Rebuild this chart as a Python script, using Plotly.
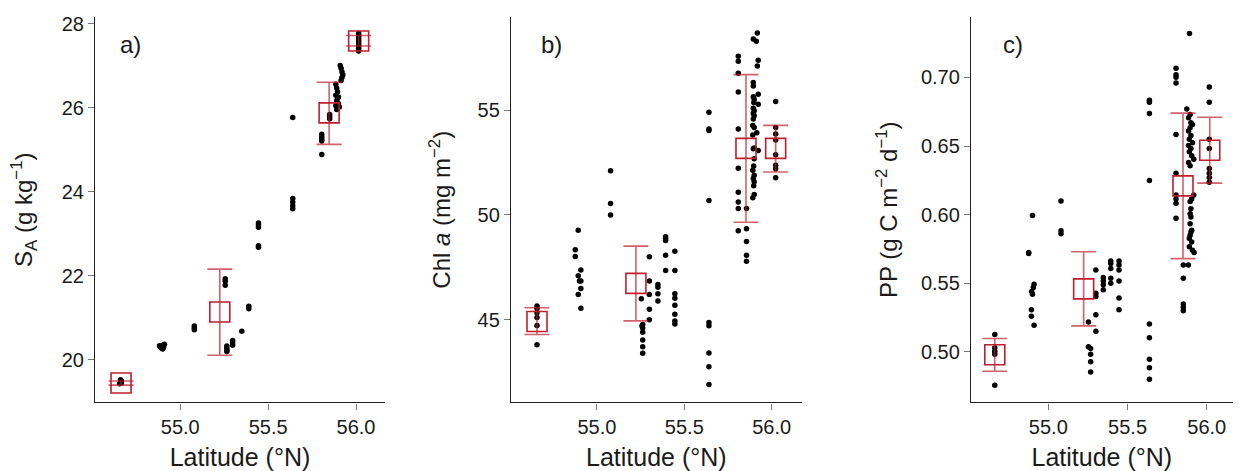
import plotly.graph_objects as go

# ---------------- Panel a: Absolute salinity ----------------
a_lat = [54.655, 54.66, 54.665, 54.66, 54.665,
         54.882, 54.888, 54.895, 54.90, 54.905, 54.91, 54.90, 54.893,
         55.08, 55.08, 55.08,
         55.256, 55.256, 55.256,
         55.265, 55.265, 55.265, 55.265,
         55.298, 55.298, 55.298,
         55.35,
         55.39, 55.39,
         55.445, 55.445, 55.445, 55.445, 55.445,
         55.64, 55.64, 55.64, 55.64, 55.64,
         55.805, 55.805, 55.805, 55.805, 55.805,
         55.85, 55.85, 55.85,
         55.885, 55.89, 55.885, 55.895, 55.89, 55.90, 55.885, 55.895, 55.89, 55.90, 55.895, 55.905,
         55.91, 55.915, 55.92, 55.925, 55.92, 55.915,
         56.015, 56.015, 56.015, 56.015, 56.015, 56.015, 56.015, 56.015, 56.015]
a_val = [19.43, 19.47, 19.50, 19.53, 19.45,
         20.34, 20.31, 20.28, 20.35, 20.30, 20.37, 20.26, 20.33,
         20.81, 20.76, 20.72,
         21.93, 21.87, 21.78,
         20.33, 20.28, 20.23, 20.20,
         20.46, 20.40, 20.35,
         20.68,
         21.28, 21.22,
         23.26, 23.21, 23.16, 22.72, 22.68,
         25.77, 23.84, 23.76, 23.67, 23.60,
         25.37, 25.31, 25.26, 25.21, 24.89,
         25.84, 25.79, 25.74,
         26.56, 26.47, 26.30, 26.22, 26.17, 26.10, 26.05, 26.00, 25.96, 26.26, 26.38, 26.02,
         27.01, 26.94, 26.86, 26.79, 26.72, 26.65,
         27.77, 27.72, 27.67, 27.62, 27.57, 27.52, 27.47, 27.41, 27.35]
a_mean_lat = [54.663, 55.225, 55.847, 56.015]
a_mean = [19.45, 21.14, 25.88, 27.59]
a_hi = [19.50, 22.16, 26.61, 27.72]
a_lo = [19.40, 20.11, 25.13, 27.47]

# ---------------- Panel b: Chl a ----------------
b_lat = [54.657] * 6 + \
        [54.876, 54.876, 54.893, 54.893, 54.893, 54.908, 54.908, 54.908, 54.908, 54.90] + \
        [55.078] * 3 + \
        [55.254, 55.262, 55.262, 55.262, 55.262, 55.262, 55.262, 55.258, 55.30, 55.30, 55.30, 55.30, 55.30] + \
        [55.349] * 4 + [55.393] * 5 + [55.446] * 8 + [55.641] * 9 + [55.809] * 10 + [55.856] * 5 + \
        [55.918, 55.895, 55.912, 55.923, 55.918, 55.895, 55.895, 55.923, 55.895, 55.90, 55.898,
         55.923, 55.895, 55.90, 55.895, 55.90, 55.895, 55.892, 55.90, 55.915, 55.892, 55.90,
         55.895, 55.923, 55.90, 55.897, 55.892, 55.90, 55.895, 55.90, 55.897, 55.90, 55.892] + \
        [56.023] * 8
b_val = [45.65, 45.52, 45.33, 45.10, 44.72, 43.80,
         48.34, 48.02, 49.27, 47.10, 46.20, 47.37, 46.84, 46.49, 45.55, 46.84,
         52.11, 50.55, 50.00,
         46.00, 44.77, 44.60, 44.40, 44.03, 43.70, 43.40, 44.70, 48.00, 46.85, 46.20, 45.50, 45.00,
         46.68, 46.55, 46.24, 45.89,
         48.96, 48.86, 48.78, 48.07, 47.35,
         48.27, 47.35, 46.24, 46.02, 45.69, 45.26, 44.94, 44.79,
         54.91, 54.10, 54.03, 50.69, 44.86, 44.71, 43.41, 42.75, 41.90,
         57.58, 57.34, 56.77, 55.87, 54.10, 52.23, 51.09, 50.62, 50.31, 49.24,
         50.31, 49.34, 48.73, 48.07, 47.79,
         58.69, 58.40, 58.29, 57.39, 57.11, 56.32, 56.16, 55.76, 55.65, 55.53, 55.37,
         55.29, 55.09, 54.98, 54.85, 54.74, 54.58, 54.27, 54.18, 53.92, 53.82, 53.20,
         53.16, 53.08, 52.68, 52.34, 52.13, 51.90, 51.74, 51.58, 51.39, 50.98, 50.82,
         55.42, 54.18, 53.87, 53.58, 52.87, 52.37, 52.21, 51.78]
b_mean_lat = [54.657, 55.223, 55.853, 56.023]
b_mean = [44.91, 46.73, 53.18, 53.18]
b_hi = [45.57, 48.51, 56.70, 54.28]
b_lo = [44.29, 44.94, 49.65, 52.05]

# ---------------- Panel c: Primary production ----------------
c_lat = [54.662] * 5 + \
        [54.876, 54.876, 54.90, 54.91, 54.905, 54.895, 54.90, 54.893, 54.893, 54.91] + \
        [55.08] * 3 + \
        [55.30, 55.30, 55.30, 55.30, 55.253, 55.30, 55.253, 55.267, 55.267, 55.267, 55.267] + \
        [55.347] * 4 + [55.394] * 5 + [55.446] * 6 + [55.638] * 9 + [55.806] * 10 + [55.852] * 5 + [55.884] + \
        [55.891, 55.874, 55.895, 55.885, 55.90, 55.91, 55.895, 55.885, 55.90, 55.89, 55.91,
         55.885, 55.90, 55.89, 55.905, 55.918, 55.885, 55.895, 55.918, 55.905, 55.895, 55.90,
         55.895, 55.90, 55.895, 55.905, 55.90, 55.895, 55.89, 55.905, 55.89, 55.91, 55.92] + \
        [56.016] * 8
c_val = [0.5127, 0.5030, 0.5006, 0.4983, 0.4758,
         0.5725, 0.5717, 0.5995, 0.5493, 0.5469, 0.5440, 0.5421, 0.5308, 0.5260, 0.5194,
         0.6100, 0.5884, 0.5862,
         0.5597, 0.5428, 0.5404, 0.5272, 0.5218, 0.5151, 0.5038, 0.5026, 0.4983, 0.4929, 0.4855,
         0.5542, 0.5518, 0.5489, 0.5453,
         0.5662, 0.5645, 0.5609, 0.5537, 0.5500,
         0.5662, 0.5633, 0.5597, 0.5518, 0.5393, 0.5308,
         0.6834, 0.6819, 0.6737, 0.6250, 0.5204, 0.5103, 0.4947, 0.4886, 0.4802,
         0.7067, 0.7019, 0.7002, 0.6959, 0.6585, 0.6303, 0.6144, 0.6115, 0.6084, 0.5975,
         0.5633, 0.5537, 0.5349, 0.5325, 0.5301, 0.5633,
         0.7320, 0.6771, 0.6730, 0.6706, 0.6670, 0.6657, 0.6633, 0.6610, 0.6578, 0.6549, 0.6525,
         0.6505, 0.6482, 0.6458, 0.6429, 0.6404, 0.6380, 0.6357, 0.6144, 0.6115, 0.6096, 0.6043,
         0.6007, 0.5983, 0.5934, 0.5886, 0.5874, 0.5850, 0.5826, 0.5802, 0.5766, 0.5742, 0.5725,
         0.6930, 0.6819, 0.6549, 0.6482, 0.6337, 0.6303, 0.6272, 0.6236]
c_mean_lat = [54.662, 55.223, 55.850, 56.019]
c_mean = [0.498, 0.546, 0.621, 0.647]
c_hi = [0.5098, 0.573, 0.674, 0.671]
c_lo = [0.486, 0.519, 0.568, 0.623]

x_ticks = [55.0, 55.5, 56.0]
a_ticks = [20, 22, 24, 26, 28]
b_ticks = [45, 50, 55]
c_ticks = [0.50, 0.55, 0.60, 0.65, 0.70]

panel_labels = ["a)", "b)", "c)"]
y_titles = ["S<sub>A</sub> (g kg<sup>\u22121</sup>)",
            "Chl <i>a</i> (mg m<sup>\u22122</sup>)",
            "PP (g C m<sup>\u22122</sup> d<sup>\u22121</sup>)"]
x_title = "Latitude (\u00b0N)"

FONT = "Liberation Sans, Arial, Helvetica, sans-serif"
RED = "#be1e2d"
RED_BAR = "rgba(190,30,45,0.7)"

panels = [
    (a_lat, a_val, a_mean_lat, a_mean, a_hi, a_lo),
    (b_lat, b_val, b_mean_lat, b_mean, b_hi, b_lo),
    (c_lat, c_val, c_mean_lat, c_mean, c_hi, c_lo),
]

fig = go.Figure()
for i, (lat, val, mlat, mval, hi, lo) in enumerate(panels):
    sfx = "" if i == 0 else str(i + 1)
    fig.add_trace(go.Scatter(
        x=lat, y=val, mode="markers", xaxis="x" + sfx, yaxis="y" + sfx,
        marker=dict(color="black", size=5.5), showlegend=False, hoverinfo="x+y"))
    fig.add_trace(go.Scatter(
        x=mlat, y=mval, mode="markers", xaxis="x" + sfx, yaxis="y" + sfx,
        marker=dict(symbol="square-open", size=20, color=RED, line=dict(color=RED, width=1.6)),
        error_y=dict(type="data", symmetric=False,
                     array=[h - m for h, m in zip(hi, mval)],
                     arrayminus=[m - l for m, l in zip(mval, lo)],
                     color=RED_BAR, thickness=1.6, width=12.5),
        showlegend=False))

x_domains = [[0.0756, 0.3063], [0.4065, 0.6378], [0.7725, 0.9807]]
y_dom = [0.147, 0.972]
x_ranges = [[54.515, 56.165], [54.508, 56.172], [54.512, 56.164]]
y_ranges = [[18.99, 28.16], [41.05, 59.45], [0.4633, 0.744]]
y_tickvals = [a_ticks, b_ticks, c_ticks]
y_fmt = ["d", "d", ".2f"]
y_standoff = [22, 20, 16]
label_x = [0.079, 0.097, 0.113]

axis_common = dict(showline=True, linecolor="#222", linewidth=1.3, ticks="outside",
                   ticklen=6, tickwidth=1, tickcolor="#777", showgrid=False, zeroline=False,
                   tickfont=dict(family=FONT, size=20, color="#1a1a1a"))

layout = dict(width=1257, height=471, margin=dict(l=0, r=0, t=0, b=0),
              plot_bgcolor="white", paper_bgcolor="white", showlegend=False,
              font=dict(family=FONT, color="#1a1a1a"))
annotations = []
for i in range(3):
    sfx = "" if i == 0 else str(i + 1)
    layout["xaxis" + sfx] = dict(axis_common, domain=x_domains[i], range=x_ranges[i],
                                 anchor="y" + sfx, tickvals=x_ticks, tickformat=".1f",
                                 title=dict(text=x_title, font=dict(family=FONT, size=25), standoff=13))
    layout["yaxis" + sfx] = dict(axis_common, domain=y_dom, range=y_ranges[i],
                                 anchor="x" + sfx, tickvals=y_tickvals[i], tickformat=y_fmt[i],
                                 title=dict(text=y_titles[i], font=dict(family=FONT, size=24),
                                            standoff=y_standoff[i]))
    annotations.append(dict(text=panel_labels[i], xref="x" + sfx + " domain", yref="y" + sfx + " domain",
                            x=label_x[i], y=0.929, xanchor="left", yanchor="middle", showarrow=False,
                            font=dict(family=FONT, size=24, color="#1a1a1a")))
layout["annotations"] = annotations
fig.update_layout(**layout)

fig.write_html("out.html", config={"displayModeBar": False},
               post_script="document.body.style.margin='0';document.body.style.overflow='hidden';")
